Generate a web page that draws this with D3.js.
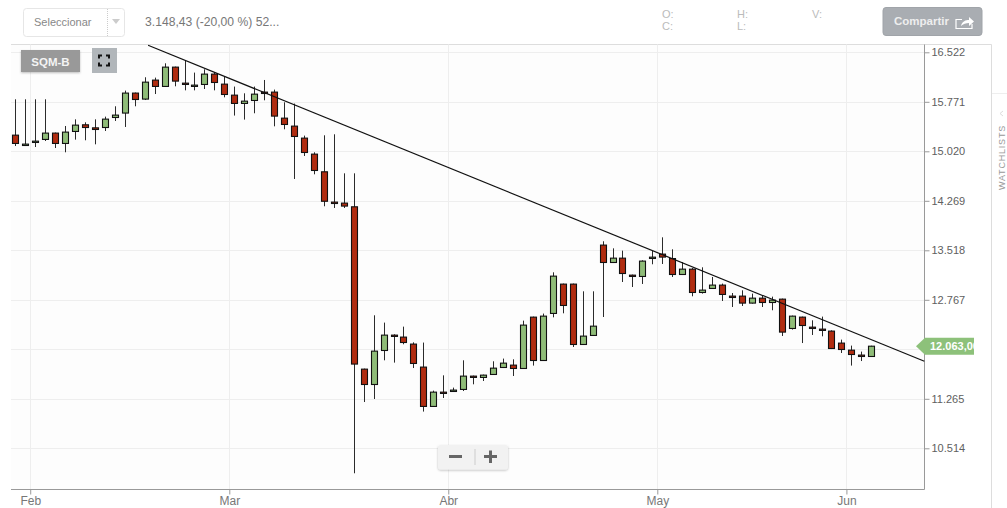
<!DOCTYPE html>
<html><head><meta charset="utf-8">
<style>html,body{margin:0;padding:0;background:#fff;overflow:hidden}svg{display:block}text{font-family:"Liberation Sans",Arial,sans-serif}</style>
<script src="https://cdn.jsdelivr.net/npm/d3@7"></script></head><body><svg id="c" width="1007" height="508"></svg>
<script>
const opens=[15265,15108,15154,15200,15296,15139,15321,15422,15376,15381,15533,15600,15903,15812,16100,16004,16297,16054,16004,16034,16191,16039,15872,15746,15791,15918,15918,15523,15402,15220,14977,14709,14249,14234,14178,11715,11482,11998,12231,12201,12095,11746,11149,11366,11376,11407,11609,11589,11634,11740,11776,11725,12504,11846,12560,13005,13005,12089,12226,13597,13333,13399,13141,13121,13394,13460,13393,13151,13232,12878,12939,12990,12823,12823,12717,12792,12726,12777,12332,12504,12352,12322,12292,12110,12003,11928,11907];
const closes=[15139,15129,15174,15296,15139,15311,15417,15381,15351,15508,15569,15903,15806,16069,16004,16297,16085,16034,16024,16191,16064,15882,15746,15781,15887,15897,15554,15427,15245,15002,14729,14262,14228,14189,11792,11482,11988,12231,12211,12119,11801,11149,11366,11346,11397,11609,11589,11624,11730,11806,11725,12383,11846,12519,13126,12681,12089,12216,12367,13333,13399,13166,13121,13354,13414,13415,13151,13232,12878,12914,12990,12848,12802,12717,12792,12726,12762,12277,12519,12377,12332,12302,12028,12013,11937,11907,12063];
const highs=[15809,15809,15809,15809,15304,15404,15505,15460,15505,15546,15703,15941,15911,16143,16138,16355,16305,16401,16214,16264,16223,16153,16002,15900,16002,16102,15956,15763,15744,15258,15005,15263,15278,14686,14686,11723,12532,12421,12244,12360,12122,12118,11389,11621,11435,11849,11617,11632,11834,11875,11864,12451,12512,12558,13184,13013,13013,12896,12896,13655,13548,13513,13149,13366,13507,13715,13533,13340,13249,13260,13113,13013,12870,12911,12861,12831,12815,12785,12527,12512,12456,12512,12304,12163,12072,11981,12070];
const lows=[15100,15100,15085,15176,15070,15005,15197,15187,15126,15328,15480,15389,15703,15798,15889,15996,16006,15945,15945,15965,15945,15839,15562,15501,15597,15794,15399,15354,14600,14949,14671,14186,14160,14160,10135,11216,11262,11849,11814,12092,11732,11071,11141,11277,11368,11383,11485,11535,11626,11732,11611,11717,11769,11839,12501,12562,12051,12081,12218,12506,13325,13037,12961,13007,13306,13310,13113,13143,12820,12861,12931,12749,12658,12673,12709,12658,12608,12218,12315,12111,12233,12213,12020,11960,11769,11838,11899];
const yTicks=[16522,15771,15020,14269,13518,12767,12016,11265,10514];
const yTickLabels=["16.522","15.771","15.020","14.269","13.518","12.767","","11.265","10.514"];
const monthLabels=["Feb","Mar","Abr","May","Jun"];
const monthStartIndex=[2,22,44,65,84];
const trendIndex=[13.34,91.33];
const trendValue=[16628,11834];
const lastPrice=12063;
const lastPriceLabel="12.063,00";

const svg=d3.select("#c");
const x=d3.scaleLinear().domain([0,86]).range([15.3,871.3]);
const y=d3.scaleLinear().domain([16522,10514]).range([52.3,448.3]);
const L=11,R=924.5,T=44.5,B=489.5;

svg.append("rect").attr("width",1007).attr("height",508).attr("fill","#fff");
svg.append("rect").attr("x",L).attr("y",T).attr("width",R-L).attr("height",B-T).attr("fill","#fdfdfd");

// frame
svg.append("path").attr("d",`M${L},${T}H991.5V508`).attr("fill","none").attr("stroke","#ddd");
svg.append("path").attr("d","M992,93.5H1007").attr("stroke","#eee");

// grid
const grid=svg.append("g").attr("stroke","#eeeeee");
yTicks.forEach(v=>{const p=Math.round(y(v))+.5;grid.append("line").attr("x1",L).attr("x2",R).attr("y1",p).attr("y2",p);});
const mx=monthStartIndex.map(i=>x(i-.5));
mx.forEach(p=>{const q=Math.round(p)+.5;grid.append("line").attr("x1",q).attr("x2",q).attr("y1",T).attr("y2",B);});

// axes
const axY=d3.axisRight(y).tickValues(yTicks).tickSize(5).tickPadding(2).tickFormat((d,i)=>yTickLabels[i]);
const gy=svg.append("g").attr("transform",`translate(${R},0)`).call(axY);
const axX=d3.axisBottom(d3.scaleLinear().domain([0,1007]).range([0,1007])).tickValues(mx).tickSize(5).tickPadding(2).tickFormat((d,i)=>monthLabels[i]);
const gx=svg.append("g").attr("transform",`translate(0,${B})`).call(axX);
[gy,gx].forEach(g=>{g.select(".domain").remove();g.selectAll("line").attr("stroke","#999");});
gy.selectAll("text").attr("fill","#606060").attr("font-size",11).attr("font-family","Liberation Sans");
gx.selectAll("text").attr("fill","#777").attr("font-size",12).attr("font-family","Liberation Sans");
svg.append("line").attr("x1",L).attr("x2",R).attr("y1",B).attr("y2",B).attr("stroke","#999");
svg.append("line").attr("x1",R).attr("x2",R).attr("y1",T).attr("y2",B).attr("stroke","#999");

// candles
const idx=d3.range(opens.length);
const cs=svg.append("g");
const px=i=>Math.round(x(i));
cs.selectAll("line.w").data(idx).join("line").attr("class","w")
  .attr("x1",i=>px(i)+.5).attr("x2",i=>px(i)+.5).attr("y1",i=>y(highs[i])).attr("y2",i=>y(lows[i]))
  .attr("stroke","#2b2b2b").attr("stroke-width",1);
cs.selectAll("rect.b").data(idx).join("rect").attr("class","b")
  .attr("x",i=>px(i)-2.5).attr("width",6)
  .attr("y",i=>y(Math.max(opens[i],closes[i])))
  .attr("height",i=>Math.abs(y(opens[i])-y(closes[i])))
  .attr("fill",i=>closes[i]>=opens[i]?"#8fbc78":"#b02c10")
  .attr("stroke","#111").attr("stroke-width",1.1);

// trend line
svg.append("line").attr("x1",x(trendIndex[0])).attr("y1",y(trendValue[0])).attr("x2",x(trendIndex[1])).attr("y2",y(trendValue[1]))
  .attr("stroke","#111").attr("stroke-width",1.2);

// last price tag
const ty=y(lastPrice);
svg.append("path").attr("d",`M916,${ty}L925,${ty-8.5}H974V${ty+8.5}H925Z`).attr("fill","#8dc17a");
svg.append("clipPath").attr("id","tagclip").append("rect").attr("x",925).attr("y",ty-9).attr("width",49).attr("height",18);
svg.append("g").attr("clip-path","url(#tagclip)").append("text").attr("x",930).attr("y",ty+4).attr("fill","#fff").attr("font-size",11).attr("font-weight","bold").text(lastPriceLabel);

// header controls
svg.append("rect").attr("x",23.5).attr("y",8.5).attr("width",101).attr("height",28).attr("rx",3).attr("fill","#fff").attr("stroke","#e6e6e6");
svg.append("text").attr("x",34).attr("y",26).attr("font-size",11).attr("fill","#888").text("Seleccionar");
svg.append("line").attr("x1",107.5).attr("x2",107.5).attr("y1",9).attr("y2",36).attr("stroke","#ccc").attr("stroke-dasharray","1,1");
svg.append("path").attr("d","M112,19H120L116,24Z").attr("fill","#ccc");
svg.append("text").attr("x",145).attr("y",26).attr("font-size",12.15).attr("fill","#777").text("3.148,43 (-20,00 %) 52...");
[["O:",662,18],["C:",662,30],["H:",737,18],["L:",737,30],["V:",812,18]].forEach(d=>{
  svg.append("text").attr("x",d[1]).attr("y",d[2]).attr("font-size",11).attr("fill","#bbb").text(d[0]);});
svg.append("rect").attr("x",883).attr("y",7.5).attr("width",99).attr("height",28).attr("rx",3).attr("fill","#a9adb2").attr("stroke","#a0a4a9");
svg.append("text").attr("x",894).attr("y",25).attr("font-size",11.5).attr("font-weight","bold").attr("fill","#eeeeee").text("Compartir");
svg.append("path").attr("d","M962,19.5H956V28.5H972V24").attr("fill","none").attr("stroke","#fff").attr("stroke-width",1.2);
svg.append("path").attr("d","M961,26C962,21 966,20 969,20V17L974,21.5L969,26V23C966,23 963,24 961,26Z").attr("fill","#fff");

// symbol and fullscreen
const defs=svg.append("defs");
const f=defs.append("filter").attr("id","sh").attr("x","-10%").attr("y","-10%").attr("width","120%").attr("height","130%");
f.append("feDropShadow").attr("dx",0).attr("dy",1).attr("stdDeviation",1).attr("flood-color","#000").attr("flood-opacity",.25);
svg.append("rect").attr("x",21).attr("y",50).attr("width",59).attr("height",22).attr("fill","#999").attr("filter","url(#sh)");
svg.append("text").attr("x",50.5).attr("y",65.5).attr("text-anchor","middle").attr("font-size",11.5).attr("font-weight","bold").attr("fill","#f4f4f4").text("SQM-B");
svg.append("rect").attr("x",92).attr("y",48).attr("width",25).attr("height",25).attr("fill","#b1b6ba");
svg.append("path").attr("d","M99,59V56H102M106,56H109V59M109,63V66H106M102,66H99V63").attr("transform","translate(0,-.5)").attr("fill","none").attr("stroke","#111").attr("stroke-width",2);

// zoom control
svg.append("rect").attr("x",438).attr("y",445).attr("width",70).attr("height",24.5).attr("rx",3).attr("fill","#f2f2f2").attr("filter","url(#sh)");
svg.append("path").attr("d","M449,456.5H462M484,456.5H497M490.5,450.5V463").attr("stroke","#666").attr("stroke-width",3).attr("fill","none");
svg.append("line").attr("x1",475).attr("x2",475).attr("y1",449).attr("y2",465).attr("stroke","#ccc");

// side tab
svg.append("path").attr("d","M1003,111L1000,113.5L1003,116").attr("fill","none").attr("stroke","#ddd");
svg.append("text").attr("transform","translate(1005,190) rotate(-90)").attr("font-size",9).attr("letter-spacing",.8).attr("fill","#999").text("WATCHLISTS");
</script></body></html>
